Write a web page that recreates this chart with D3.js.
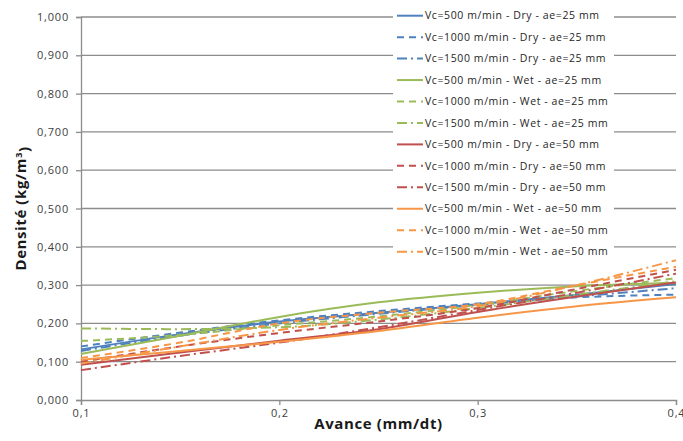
<!DOCTYPE html>
<html>
<head>
<meta charset="utf-8">
<script src="https://cdn.jsdelivr.net/npm/d3@7"></script>
<style>
  body { margin: 0; background: #fff; }
  text { font-family: "Open Sans", "Liberation Sans", Arial, sans-serif; }
</style>
</head>
<body>
<div id="chart"></div>
<script>
const width = 683
const height = 441
const margins = { top: 17, right: 7, bottom: 41, left: 81 }

// feed (mm/dt) sample positions
const avance = [0.1, 0.15, 0.2, 0.25, 0.3, 0.35, 0.4]
const yTicks = [0, 0.1, 0.2, 0.3, 0.4, 0.5, 0.6, 0.7, 0.8, 0.9, 1.0]
const xTicks = [0.1, 0.2, 0.3, 0.4]

const seriesNames = [
    "Vc=500 m/min - Dry - ae=25 mm",
    "Vc=1000 m/min - Dry - ae=25 mm",
    "Vc=1500 m/min - Dry - ae=25 mm",
    "Vc=500 m/min - Wet - ae=25 mm",
    "Vc=1000 m/min - Wet - ae=25 mm",
    "Vc=1500 m/min - Wet - ae=25 mm",
    "Vc=500 m/min - Dry - ae=50 mm",
    "Vc=1000 m/min - Dry - ae=50 mm",
    "Vc=1500 m/min - Dry - ae=50 mm",
    "Vc=500 m/min - Wet - ae=50 mm",
    "Vc=1000 m/min - Wet - ae=50 mm",
    "Vc=1500 m/min - Wet - ae=50 mm"
]

// densité (kg/m3)
const dry25_500 = [0.132, 0.172, 0.205, 0.228, 0.250, 0.275, 0.303]
const dry25_1000 = [0.140, 0.176, 0.208, 0.232, 0.252, 0.268, 0.275]
const dry25_1500 = [0.128, 0.168, 0.200, 0.225, 0.248, 0.270, 0.292]
const wet25_500 = [0.120, 0.168, 0.217, 0.255, 0.280, 0.297, 0.306]
const wet25_1000 = [0.154, 0.170, 0.195, 0.218, 0.248, 0.285, 0.318]
const wet25_1500 = [0.187, 0.185, 0.190, 0.210, 0.240, 0.275, 0.310]
const dry50_500 = [0.092, 0.124, 0.155, 0.185, 0.230, 0.270, 0.307]
const dry50_1000 = [0.100, 0.140, 0.175, 0.205, 0.240, 0.290, 0.340]
const dry50_1500 = [0.078, 0.115, 0.150, 0.190, 0.235, 0.280, 0.330]
const wet50_500 = [0.105, 0.128, 0.152, 0.180, 0.215, 0.245, 0.268]
const wet50_1000 = [0.110, 0.150, 0.200, 0.228, 0.250, 0.300, 0.348]
const wet50_1500 = [0.095, 0.140, 0.183, 0.215, 0.245, 0.300, 0.365]

const seriesValues = [
    dry25_500, dry25_1000, dry25_1500,
    wet25_500, wet25_1000, wet25_1500,
    dry50_500, dry50_1000, dry50_1500,
    wet50_500, wet50_1000, wet50_1500
]

const groupColors = ["#4f81bd", "#9bbb59", "#c0504d", "#f79646"]
const dashes = ["none", "7,5", "10,4,2,4"]

const svg = d3.select("#chart")
    .append("svg")
    .attr("width", width)
    .attr("height", height)

const x = d3.scaleLinear()
    .domain([0.1, 0.4])
    .range([margins.left, width - margins.right])
const y = d3.scaleLinear()
    .domain([0, 1])
    .range([height - margins.bottom, margins.top])

const fmt = d => d3.format(".3f")(d).replace(".", ",")

// gridlines
svg.append("g")
    .selectAll("line")
    .data(yTicks.slice(1))
    .enter()
    .append("line")
    .attr("x1", x(0.1))
    .attr("x2", x(0.4))
    .attr("y1", d => y(d))
    .attr("y2", d => y(d))
    .style("stroke", "#8c8c8c")
    .style("stroke-width", 1.3)

// y axis
const yAxis = svg.append("g")
    .attr("transform", `translate(${x(0.1)},0)`)
    .call(d3.axisLeft(y).tickValues(yTicks).tickFormat(fmt).tickSize(5).tickPadding(7))
yAxis.select(".domain").style("stroke", "#8c8c8c").style("stroke-width", 1.3)
yAxis.selectAll(".tick line").style("stroke", "#8c8c8c").style("stroke-width", 1.3)
yAxis.selectAll("text").style("font-size", "11px").style("letter-spacing", "0.8px").style("fill", "#404040")

// x axis
const xAxis = svg.append("g")
    .attr("transform", `translate(0,${y(0)})`)
    .call(d3.axisBottom(x).tickValues(xTicks).tickFormat(d => String(d).replace(".", ",")).tickSize(5).tickPadding(4))
xAxis.select(".domain").style("stroke", "#8c8c8c").style("stroke-width", 1.3)
xAxis.selectAll(".tick line").style("stroke", "#8c8c8c").style("stroke-width", 1.3)
xAxis.selectAll("text").style("font-size", "11px").style("letter-spacing", "0.8px").style("fill", "#404040")

// series
const line = d3.line()
    .x((d, i) => x(avance[i]))
    .y(d => y(d))
    .curve(d3.curveMonotoneX)

svg.append("g")
    .selectAll("path")
    .data(seriesValues)
    .enter()
    .append("path")
    .attr("d", d => line(d))
    .style("fill", "none")
    .style("stroke", (d, i) => groupColors[Math.floor(i / 3)])
    .style("stroke-width", 2)
    .style("stroke-dasharray", (d, i) => dashes[i % 3])

// legend
const legend = svg.append("g")
legend.append("rect")
    .attr("x", 393)
    .attr("y", 5)
    .attr("width", 221)
    .attr("height", 258)
    .style("fill", "#fff")
const rows = legend.selectAll(".row")
    .data(seriesNames)
    .enter()
    .append("g")
    .attr("class", "row")
    .attr("transform", (d, i) => `translate(397,${15.7 + i * 21.45})`)
rows.append("line")
    .attr("x1", 0)
    .attr("x2", 26)
    .style("stroke", (d, i) => groupColors[Math.floor(i / 3)])
    .style("stroke-width", 2)
    .style("stroke-dasharray", (d, i) => dashes[i % 3])
rows.append("text")
    .text(d => d)
    .attr("x", 28)
    .attr("dy", "0.35em")
    .style("font-size", "10.5px")
    .style("letter-spacing", "0.6px")
    .style("fill", "#262626")

// axis titles
svg.append("text")
    .text("Avance (mm/dt)")
    .attr("x", (x(0.1) + x(0.4)) / 2)
    .attr("y", 429)
    .attr("text-anchor", "middle")
    .style("font-size", "15px")
    .style("letter-spacing", "0.6px")
    .style("font-weight", "bold")
    .style("fill", "#1a1a1a")
const yTitle = svg.append("text")
    .attr("transform", `translate(26,${y(0.5)}) rotate(-90)`)
    .attr("text-anchor", "middle")
    .style("font-size", "15px")
    .style("letter-spacing", "0.6px")
    .style("font-weight", "bold")
    .style("fill", "#1a1a1a")
yTitle.append("tspan").text("Densité (kg/m")
yTitle.append("tspan").text("3").attr("dy", "-0.45em").style("font-size", "9px")
yTitle.append("tspan").text(")").attr("dy", "0.45em")
</script>
</body>
</html>
